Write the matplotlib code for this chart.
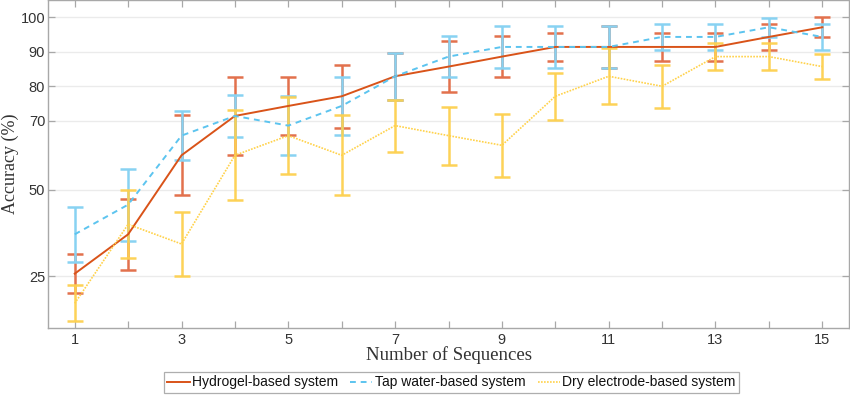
import matplotlib
matplotlib.use("Agg")
import matplotlib.pyplot as plt

# Number of sequences
sequences = list(range(1, 16))

# Accuracy (%) and error (+/-) per system
hydrogel = [25.7, 37.1, 60.0, 71.4, 74.3, 77.1, 82.9, 85.7, 88.6, 91.4, 91.4, 91.4, 91.4, 94.3, 97.1]
hydrogel_err = [5.7, 10.2, 11.6, 11.4, 8.5, 9.2, 6.8, 7.3, 6.0, 4.0, 6.0, 4.0, 4.0, 3.8, 2.9]

tap_water = [37.1, 45.7, 65.7, 71.4, 68.6, 74.3, 82.9, 88.6, 91.4, 91.4, 91.4, 94.3, 94.3, 97.1, 94.3]
tap_water_err = [8.0, 10.4, 7.2, 6.0, 8.6, 8.4, 6.8, 6.0, 6.0, 6.0, 6.0, 3.8, 3.8, 2.8, 3.8]

dry = [17.1, 40.0, 34.3, 60.0, 65.7, 60.0, 68.6, 65.7, 62.9, 77.1, 82.9, 80.0, 88.6, 88.6, 85.7]
dry_err = [5.2, 9.8, 9.4, 13.0, 11.2, 11.6, 7.5, 8.4, 9.2, 6.8, 8.1, 6.2, 4.0, 4.0, 3.7]

labels = ["Hydrogel-based system", "Tap water-based system", "Dry electrode-based system"]
yticks = [25, 50, 70, 80, 90, 100]
xticklabels = [str(s) if s % 2 == 1 else "" for s in sequences]

fig = plt.figure(figsize=(8.5, 3.95), dpi=100)
ax = fig.add_axes([0.0565, 0.170, 0.9423, 0.830])

# grid under everything
ax.set_axisbelow(True)
ax.yaxis.grid(True, color="#ebebeb", linewidth=1.0)

# error bars first, then lines
ax.errorbar(sequences, hydrogel, yerr=hydrogel_err, fmt="none", ecolor="#e2714d",
            elinewidth=1.8, capsize=6, capthick=1.8, zorder=2)
ax.errorbar(sequences, tap_water, yerr=tap_water_err, fmt="none", ecolor="#88d2f2",
            elinewidth=1.8, capsize=6, capthick=1.8, zorder=2)
ax.errorbar(sequences, dry, yerr=dry_err, fmt="none", ecolor="#fdd04f",
            elinewidth=1.8, capsize=6, capthick=1.8, zorder=2, alpha=0.95)

l1, = ax.plot(sequences, hydrogel, color="#d95319", linewidth=1.4, zorder=3)
l2, = ax.plot(sequences, tap_water, color="#5cc4ef", linewidth=1.4,
              linestyle=(0, (3, 2.5)), zorder=3)
l3, = ax.plot(sequences, dry, color="#ffd24a", linewidth=1.2, linestyle=(0, (1, 0.8)),
              zorder=3)

ax.set_xlim(0.5, 15.5)
ax.set_ylim(10, 105)
ax.set_xticks(sequences)
ax.set_xticklabels(xticklabels)
ax.set_yticks(yticks)

for sp in ax.spines.values():
    sp.set_color("#a8a8a8")
    sp.set_linewidth(1.0)
ax.tick_params(axis="both", direction="in", length=5, width=0.9, color="#a8a8a8",
               labelcolor="#333333", labelsize=10.5, top=True, right=True)
for t in ax.get_xticklabels() + ax.get_yticklabels():
    t.set_family("Liberation Sans")
ax.tick_params(axis="x", pad=4)
ax.tick_params(axis="y", pad=2)

ax.set_xlabel("Number of Sequences", family="Liberation Serif", fontsize=13.5,
              color="#333333", labelpad=-1)
ax.set_ylabel("Accuracy (%)", family="Liberation Serif", fontsize=13,
              color="#333333", labelpad=1)

leg = fig.legend([l1, l2, l3], labels, loc="lower center", bbox_to_anchor=(0.531, 0.0),
                 ncol=3, frameon=True, fancybox=False, edgecolor="#9a9a9a",
                 handlelength=1.6, handletextpad=0.15, columnspacing=0.9,
                 borderpad=0.25, borderaxespad=0.15,
                 prop={"family": "Liberation Sans", "size": 10})
leg.get_frame().set_linewidth(0.9)
for t in leg.get_texts():
    t.set_color("#111111")

fig.savefig("out.png", dpi=100)
